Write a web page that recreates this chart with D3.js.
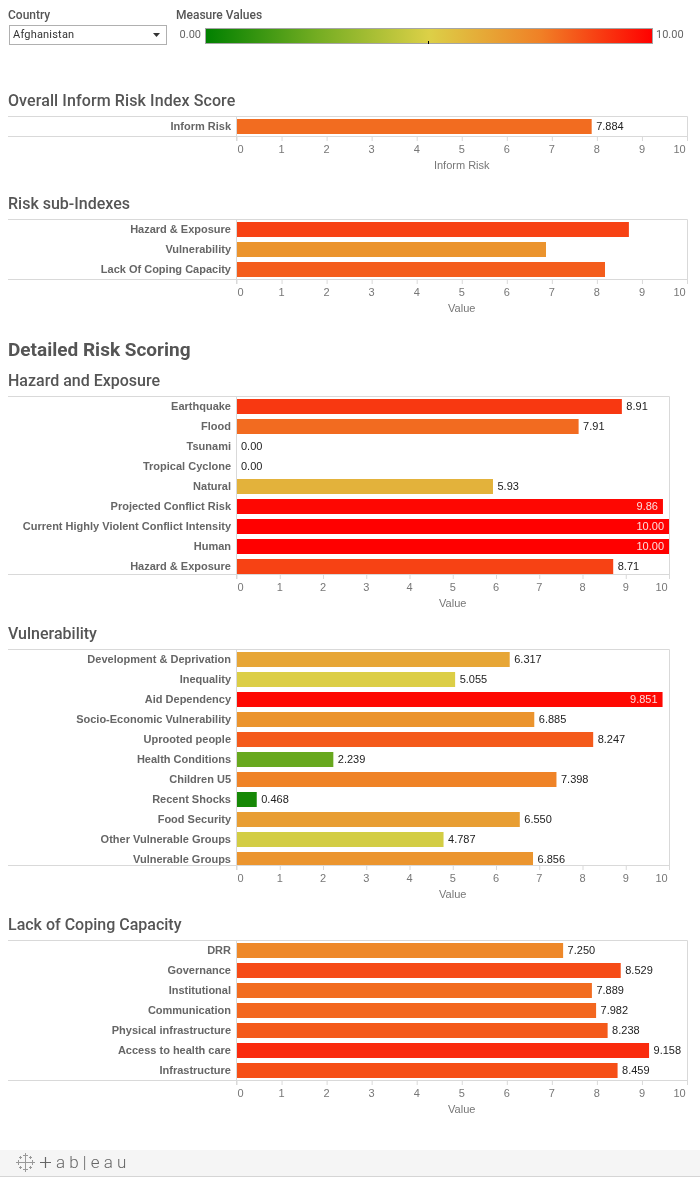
<!DOCTYPE html>
<html><head><meta charset="utf-8">
<script src="https://cdnjs.cloudflare.com/ajax/libs/d3/7.8.5/d3.min.js"></script>
<style>html,body{margin:0;padding:0;background:#fff}svg{display:block;will-change:opacity}</style>
</head><body><svg id="c" width="700" height="1177"></svg>
<script>
const informLabels=["Inform Risk"], informValues=[7.884];
const subLabels=["Hazard & Exposure","Vulnerability","Lack Of Coping Capacity"], subValues=[8.71,6.87,8.18];
const hazardLabels=["Earthquake","Flood","Tsunami","Tropical Cyclone","Natural","Projected Conflict Risk","Current Highly Violent Conflict Intensity","Human","Hazard & Exposure"];
const hazardValues=[8.91,7.91,0,0,5.93,9.86,10,10,8.71];
const vulnLabels=["Development & Deprivation","Inequality","Aid Dependency","Socio-Economic Vulnerability","Uprooted people","Health Conditions","Children U5","Recent Shocks","Food Security","Other Vulnerable Groups","Vulnerable Groups"];
const vulnValues=[6.317,5.055,9.851,6.885,8.247,2.239,7.398,0.468,6.55,4.787,6.856];
const lackLabels=["DRR","Governance","Institutional","Communication","Physical infrastructure","Access to health care","Infrastructure"];
const lackValues=[7.25,8.529,7.889,7.982,8.238,9.158,8.459];
const ticks=[0,1,2,3,4,5,6,7,8,9,10];
const colorStops=[0,2.5,5,7.5,10], colorRange=["#008000","#74ad22","#dcd047","#f08026","#ff0000"];

const color=d3.scaleLinear().domain(colorStops).range(colorRange).interpolate(d3.interpolateRgb).clamp(true);
const svg=d3.select("#c");
const F="Roboto, Arial, sans-serif", L="'Liberation Sans', Arial, sans-serif";
const txt=(x,y,s,o={})=>svg.append("text").attr("x",x).attr("y",y).text(s)
 .attr("font-family",o.f||F).attr("font-size",o.s||12).attr("font-weight",o.w||400)
 .attr("fill",o.c||"#555").attr("text-anchor",o.a||"start");

txt(8,19,"Country",{s:12,w:500});
txt(176,19,"Measure Values",{s:12,w:500});
svg.append("rect").attr("x",9.5).attr("y",25.5).attr("width",157).attr("height",19).attr("fill","#fff").attr("stroke","#b0b0b0");
txt(13,38,"Afghanistan",{s:11,c:"#333"}).attr("letter-spacing",.2);
svg.append("path").attr("d","M153 33h7l-3.5 4z").attr("fill","#333");
txt(201,38,"0.00",{s:11,c:"#666",a:"end"});
txt(656,38,"10.00",{s:11,c:"#666"});
const defs=svg.append("defs"), g=defs.append("linearGradient").attr("id","lg");
colorStops.forEach(v=>g.append("stop").attr("offset",v/10).attr("stop-color",color(v)));
svg.append("rect").attr("x",205.5).attr("y",28.5).attr("width",447).attr("height",15).attr("fill","url(#lg)").attr("stroke","#a5a5a5");
svg.append("line").attr("x1",428.5).attr("x2",428.5).attr("y1",41).attr("y2",44).attr("stroke","#000");

txt(8,106,"Overall Inform Risk Index Score",{s:16,w:500}).attr("letter-spacing",.1);
txt(8,209,"Risk sub-Indexes",{s:16,w:500});
txt(8,356,"Detailed Risk Scoring",{s:19,w:700});
txt(8,386,"Hazard and Exposure",{s:16,w:500});
txt(8,639,"Vulnerability",{s:16,w:500});
txt(8,930,"Lack of Coping Capacity",{s:16,w:500});

function panel(labels,values,o){
 const x=d3.scaleLinear().domain([0,10]).range([236.5,o.right]);
 const y=d3.scaleBand().domain(labels.map((d,i)=>i)).range([o.top,o.top+20*labels.length]);
 const gr=svg.append("g"), bot=o.bottom;
 gr.selectAll(".b").data(values).join("rect").attr("x",x(0)+.5).attr("y",(d,i)=>y(i)+3)
   .attr("height",(d,i)=>Math.min(15,bot-y(i)-3))
   .attr("width",d=>Math.max(0,x(d)-x(0)-.5)).attr("fill",d=>color(d));
 gr.append("path").attr("d",`M8 ${o.top+.5}H${o.right+.5}V${bot+.5}H8`).attr("fill","none").attr("stroke","#d9d9d9");
 gr.append("line").attr("x1",236.5).attr("x2",236.5).attr("y1",o.top+.5).attr("y2",bot+5).attr("stroke","#d9d9d9");
 labels.forEach((l,i)=>txt(231,y(i)+14,l,{f:L,s:11,w:700,c:"#666",a:"end"}));
 if(o.fmt) values.forEach((v,i)=>{
  const t=d3.format(o.fmt)(v), inside=v>=9.8;
  txt(inside?x(v)-5:x(v)+4.5,y(i)+14,t,{f:L,s:11,c:inside?"#fbdcdc":"#222",a:inside?"end":"start"});
 });
 const ax=d3.axisBottom(x).tickValues(ticks).tickSize(5).tickFormat(d3.format("d"));
 const ag=gr.append("g").attr("transform",`translate(0,${bot})`).call(ax);
 ag.select(".domain").remove();
 ag.selectAll("line").attr("stroke","#d9d9d9");
 ag.selectAll("text").attr("font-family",L).attr("font-size",11).attr("fill","#777").attr("dy",0).attr("y",17)
   .attr("text-anchor","middle").attr("dx",d=>d===10?-8:d===0?3.5:-.5);
 txt((236.5+o.right)/2,bot+33,o.title,{f:L,s:11,c:"#777",a:"middle"});
}
panel(informLabels,informValues,{top:116,bottom:136,right:687,fmt:".3f",title:"Inform Risk"});
panel(subLabels,subValues,{top:219,bottom:279,right:687,title:"Value"});
panel(hazardLabels,hazardValues,{top:396,bottom:574,right:669,fmt:".2f",title:"Value"});
panel(vulnLabels,vulnValues,{top:649,bottom:865,right:669,fmt:".3f",title:"Value"});
panel(lackLabels,lackValues,{top:940,bottom:1080,right:687,fmt:".3f",title:"Value"});

svg.append("rect").attr("x",0).attr("y",1150).attr("width",700).attr("height",26).attr("fill","#f5f5f5");
svg.append("line").attr("x1",0).attr("x2",700).attr("y1",1176.5).attr("y2",1176.5).attr("stroke","#d5d5d5");
const lg=svg.append("g").attr("stroke","#999").attr("stroke-width",1);
[[25,1162,4],[25,1155,2],[25,1169,2],[18,1162,2],[32,1162,2],[20,1157,1],[30,1157,1],[20,1167,1],[30,1167,1]].forEach(([a,b,r])=>{
 lg.append("line").attr("x1",a-r).attr("x2",a+r+1).attr("y1",b+.5).attr("y2",b+.5);
 lg.append("line").attr("x1",a+.5).attr("x2",a+.5).attr("y1",b-r).attr("y2",b+r+1);
});
svg.append("path").attr("d",d3.line()([[40,1162.5],[51,1162.5]])+d3.line()([[45.5,1157],[45.5,1168]])).attr("stroke","#666").attr("stroke-width",1.2).attr("fill","none");
txt(56,1168,"a b | e a u",{s:17,c:"#666"}).attr("font-weight",300);
</script></body></html>
